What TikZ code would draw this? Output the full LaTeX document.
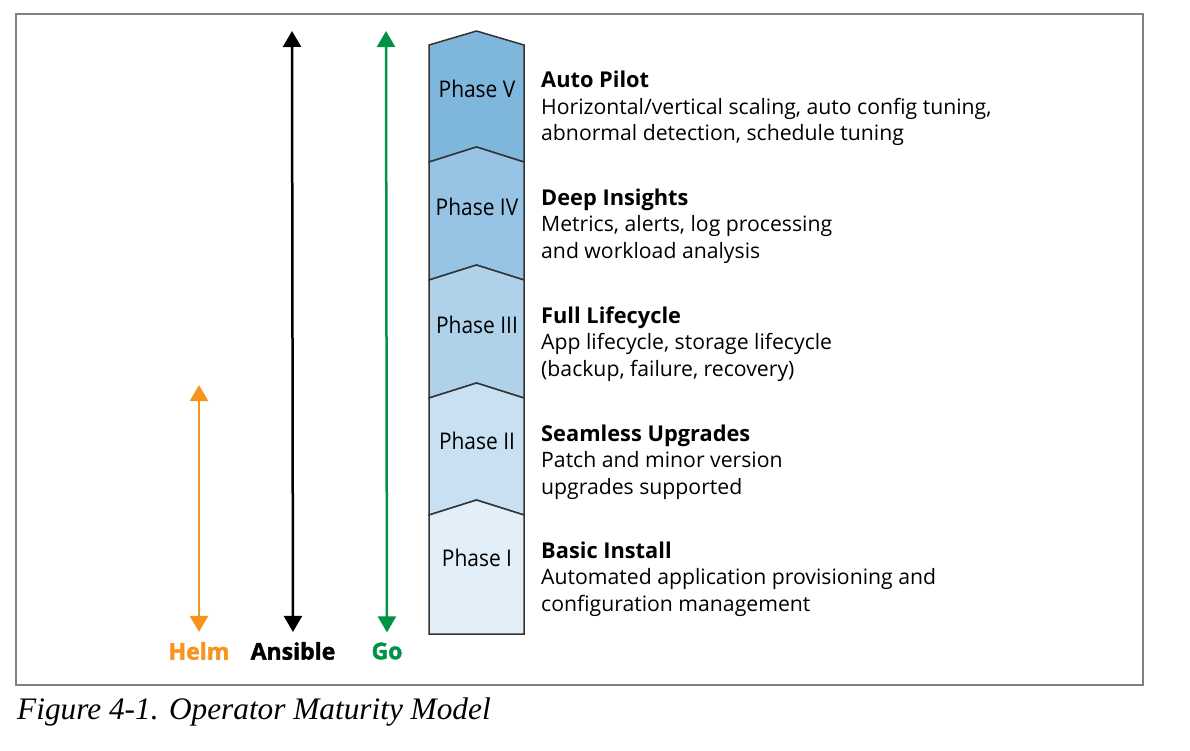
\documentclass[tikz,border=0pt]{standalone}
\usepackage{fontspec}
\setmainfont{Liberation Serif}
\newfontfamily\condfont[FakeStretch=0.91]{Open Sans}
\newfontfamily\descfont{Open Sans}
\newfontfamily\heavyfont[FakeBold=1.6]{Open Sans Bold}
\usepackage{tikz}
\usetikzlibrary{arrows.meta, positioning}
\definecolor{phase_v}{HTML}{7FB6DC}
\definecolor{phase_iv}{HTML}{97C4E4}
\definecolor{phase_iii}{HTML}{AFD2EA}
\definecolor{phase_ii}{HTML}{C8E0F1}
\definecolor{phase_i}{HTML}{E2EFF8}
\definecolor{helm_orange}{HTML}{F7941D}
\definecolor{go_green}{HTML}{009245}
\tikzset{
    seg_line/.style={draw=black!80, line width=1.5pt, line join=miter},
    seg_v/.style={seg_line, fill=phase_v},
    seg_iv/.style={seg_line, fill=phase_iv},
    seg_iii/.style={seg_line, fill=phase_iii},
    seg_ii/.style={seg_line, fill=phase_ii},
    seg_i/.style={seg_line, fill=phase_i},
    phase_label/.style={font=\condfont\fontsize{23}{27}\selectfont, inner sep=0pt},
    desc_text/.style={font=\descfont\fontsize{21.2}{26.5}\selectfont, align=left, anchor=west, inner sep=0pt},
    tool_label/.style={font=\heavyfont\fontsize{23}{27}\selectfont, inner sep=0pt},
    tool_arrow/.style={{Triangle[width=18pt,length=16pt]}-{Triangle[width=18pt,length=16pt]}, line width=2.5pt, shorten >=10pt},
    frame_line/.style={draw=black!50, line width=1.2pt},
    caption_text/.style={font=\itshape\fontsize{31.3}{35}\selectfont, anchor=west, inner sep=0pt}
}
\newcommand{\phasetitle}[1]{{\bfseries\fontsize{21.8}{26.5}\selectfont #1}}
\begin{document}
\begin{tikzpicture}[x=1pt, y=-1pt]
    \useasboundingbox (0,0) rectangle (1190,750);
    \draw[frame_line] (16,14) rectangle (1143,685);

    \draw[seg_v] (429,45) -- (476.5,31) -- (524,45) -- (524,162) -- (476.5,147) -- (429,162) -- cycle;
    \draw[seg_iv] (429,162) -- (476.5,147) -- (524,162) -- (524,280) -- (476.5,265) -- (429,280) -- cycle;
    \draw[seg_iii] (429,280) -- (476.5,265) -- (524,280) -- (524,398) -- (476.5,383) -- (429,398) -- cycle;
    \draw[seg_ii] (429,398) -- (476.5,383) -- (524,398) -- (524,515) -- (476.5,500) -- (429,515) -- cycle;
    \draw[seg_i] (429,515) -- (476.5,500) -- (524,515) -- (524,634) -- (429,634) -- cycle;

    \node[phase_label] (p5) at (477,89) {Phase V};
    \node[phase_label] (p4) at (477,207) {Phase IV};
    \node[phase_label] (p3) at (477,325) {Phase III};
    \node[phase_label] (p2) at (477,441) {Phase II};
    \node[phase_label] (p1) at (477,558) {Phase I};

    \node[desc_text] (d5) at (541,108.5) {\phasetitle{Auto Pilot}\\Horizontal/vertical scaling, auto config tuning,\\abnormal detection, schedule tuning};
    \node[desc_text] (d4) at (541,226) {\phasetitle{Deep Insights}\\Metrics, alerts, log processing\\and workload analysis};
    \node[desc_text] (d3) at (541,344) {\phasetitle{Full Lifecycle}\\App lifecycle, storage lifecycle\\(backup, failure, recovery)};
    \node[desc_text] (d2) at (541,462) {\phasetitle{Seamless Upgrades}\\Patch and minor version\\upgrades supported};
    \node[desc_text] (d1) at (541,579) {\phasetitle{Basic Install}\\Automated application provisioning and\\configuration management};

    \node[tool_label, text=helm_orange] (helm) at (199,651) {Helm};
    \node[tool_label] (ansible) at (293,651) {Ansible};
    \node[tool_label, text=go_green] (go) at (387,651) {Go};
    \coordinate (helm_top) at (199,385);
    \coordinate (ansible_top) at (292,31);
    \coordinate (go_top) at (386,31);
    \draw[tool_arrow, helm_orange] (helm_top) -- (helm);
    \draw[tool_arrow, black] (ansible_top) -- (ansible);
    \draw[tool_arrow, go_green] (go_top) -- (go);

    \node[caption_text] (caption) at (17,712) {Figure 4-1. Operator Maturity Model};
\end{tikzpicture}
\end{document}
